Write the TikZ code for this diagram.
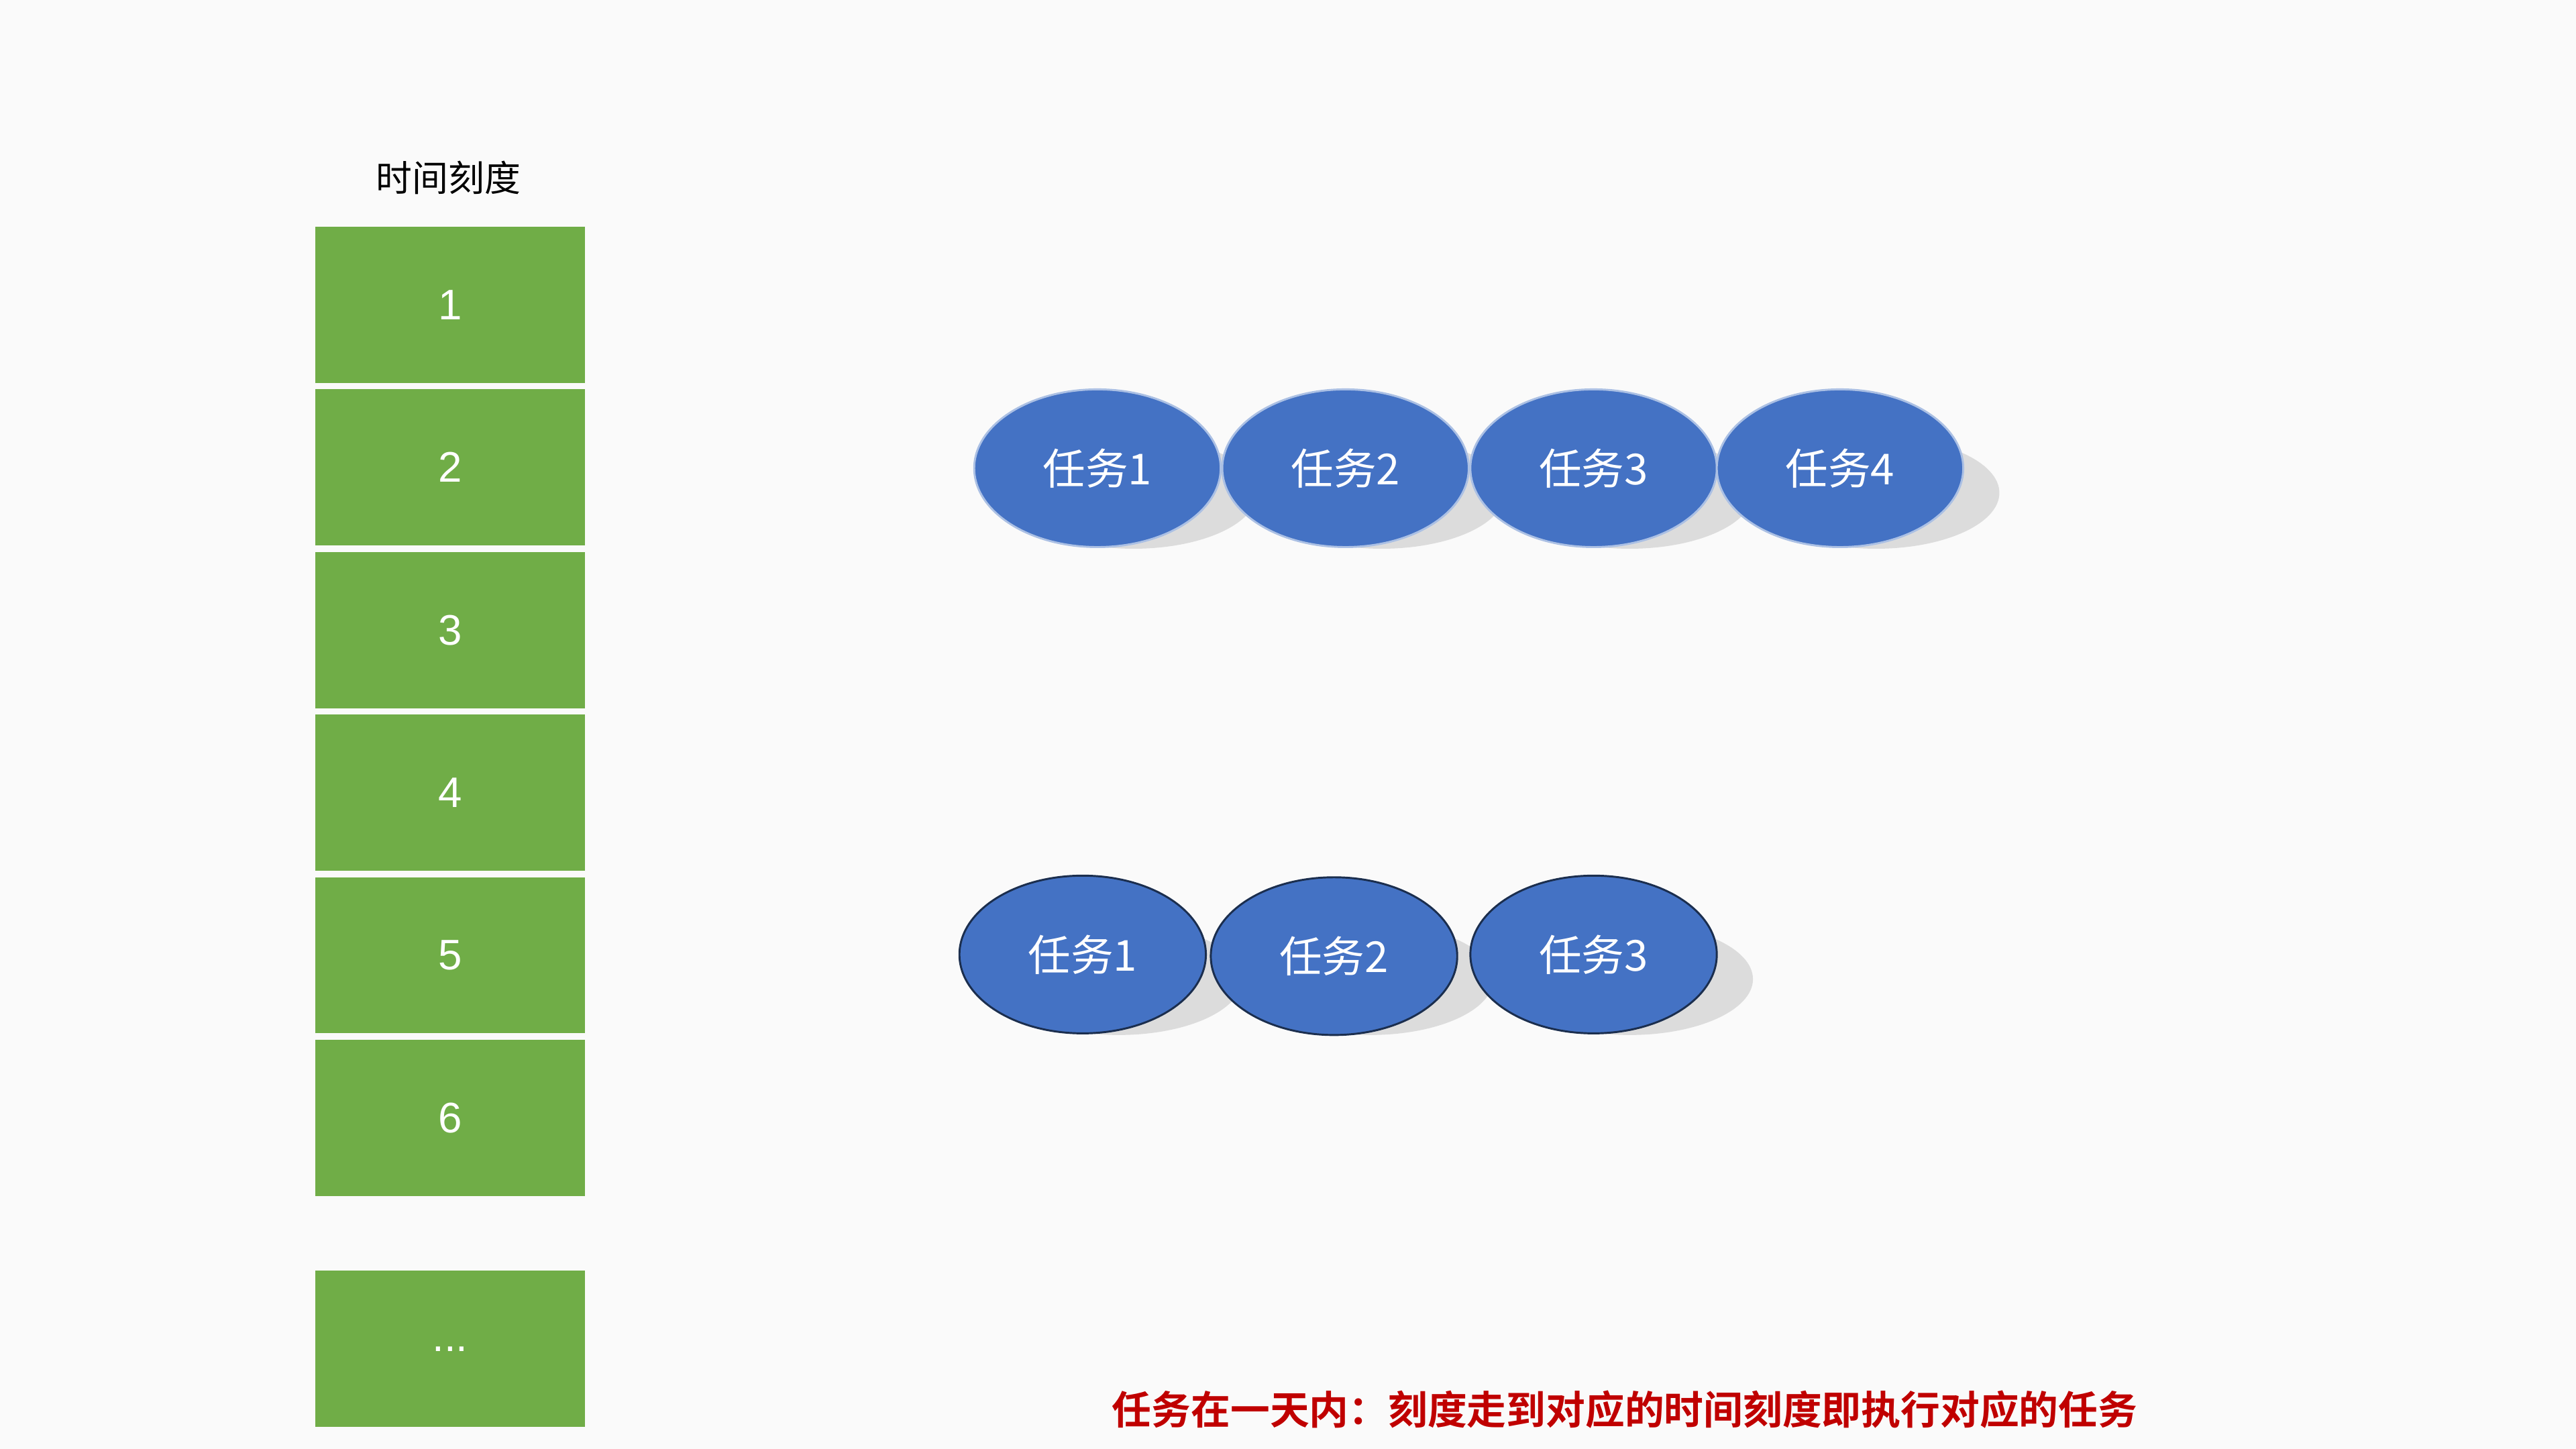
\documentclass[tikz,border=0pt]{standalone}
\usepackage{fontspec}
\setmainfont{Liberation Sans}
\newfontfamily\cjk{Noto Sans CJK SC}
\newfontfamily\cjkb{Noto Sans CJK SC Bold}
\definecolor{gbox}{HTML}{70AD47}
\definecolor{tblue}{HTML}{4472C4}
\definecolor{redt}{HTML}{C00000}
\begin{document}
\begin{tikzpicture}[x=0.5pt,y=-0.5pt,
  slot/.style={fill=gbox,draw=none,minimum width=82pt,minimum height=47.5pt,inner sep=0pt,text=white,font=\fontsize{13}{15}\selectfont},
  task/.style={ellipse,fill=tblue,draw=#1,line width=0.6pt,minimum width=75pt,minimum height=48pt,inner sep=0pt,text=white,font=\cjk\fontsize{13}{15}\selectfont},
  shad/.style={fill=black!35,opacity=0.35,draw=none}]
\usetikzlibrary{shapes.geometric}
\fill[white!98!black] (0,0) rectangle (1568,882);
\useasboundingbox (0,0) rectangle (1568,882);
\node[font=\cjk\fontsize{11}{13}\selectfont] (title) at (273,108) {时间刻度};
\node[slot] (s1) at (274,185.5) {1};
\node[slot] (s2) at (274,284.5) {2};
\node[slot] (s3) at (274,383.5) {3};
\node[slot] (s4) at (274,482.5) {4};
\node[slot] (s5) at (274,581.5) {5};
\node[slot] (s6) at (274,680.5) {6};
\node[slot] (s7) at (274,821) {...};
% shadows
\foreach \x in {668,819,970,1120}{\fill[shad] (\x+22,300) ellipse [x radius=75, y radius=34];}
\foreach \x in {659,812,970}{\fill[shad] (\x+22,596) ellipse [x radius=75, y radius=34];}
\node[task=tblue!45!white] (a1) at (668,285) {任务1};
\node[task=tblue!45!white] (a2) at (819,285) {任务2};
\node[task=tblue!45!white] (a3) at (970,285) {任务3};
\node[task=tblue!45!white] (a4) at (1120,285) {任务4};
\node[task=tblue!40!black] (b1) at (659,581) {任务1};
\node[task=tblue!40!black] (b2) at (812,582) {任务2};
\node[task=tblue!40!black] (b3) at (970,581) {任务3};
\node[font=\cjkb\fontsize{12}{14}\selectfont,text=redt] (note) at (989,858) {任务在一天内：刻度走到对应的时间刻度即执行对应的任务};
\end{tikzpicture}
\end{document}
